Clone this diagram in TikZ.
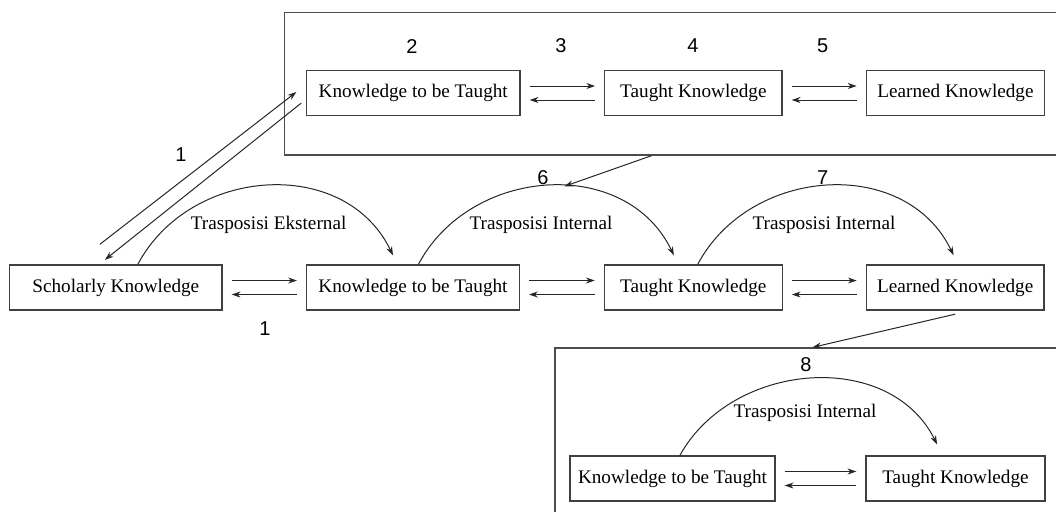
\documentclass[tikz,border=0pt]{standalone}
\usepackage{fontspec}
\setmainfont{Liberation Serif}
\newfontfamily\numfont{Liberation Sans}
\usetikzlibrary{arrows.meta}
\begin{document}
\begin{tikzpicture}[x=0.5pt, y=-0.5pt, line width=0.5pt, >={Stealth[length=4.4pt,width=3pt]},
    box/.style={draw=black!75, line width=0.65pt, minimum height=22.5pt, inner sep=0pt, font=\fontsize{9.6}{11}\selectfont},
    frame/.style={draw=black!70, line width=0.65pt, inner sep=0pt},
    lbl/.style={font=\fontsize{9.6}{11}\selectfont},
    num/.style={font=\numfont\fontsize{10}{12}\selectfont},
    arc/.style={->, draw=black!85}]
    \useasboundingbox (0,0) rectangle (1056,511);
    % frames
    \node[frame, minimum width=392.8pt, minimum height=71.3pt] (topframe) at (677.2,83.7) {};
    \node[frame, minimum width=257.5pt, minimum height=91pt] (botframe) at (812.5,439) {};
    % boxes
    \node[box, minimum width=106.75pt] (ktA) at (413.25,93) {Knowledge to be Taught};
    \node[box, minimum width=88.6pt] (tkA) at (693.4,93) {Taught Knowledge};
    \node[box, minimum width=89.25pt] (lkA) at (955.5,93) {Learned Knowledge};
    \node[box, minimum width=106.2pt] (sk) at (115.8,287.5) {Scholarly Knowledge};
    \node[box, minimum width=106.4pt] (ktB) at (413,287.5) {Knowledge to be Taught};
    \node[box, minimum width=88.9pt] (tkB) at (693.3,287.5) {Taught Knowledge};
    \node[box, minimum width=88.9pt] (lkB) at (955.2,287.5) {Learned Knowledge};
    \node[box, minimum width=102.5pt] (ktC) at (672.5,478.5) {Knowledge to be Taught};
    \node[box, minimum width=89.5pt] (tkC) at (955.5,478.5) {Taught Knowledge};
    % numbers
    \node[num] (n1a) at (181,155) {1};
    \node[num] (n1b) at (265,328.4) {1};
    \node[num] (n2) at (412,46.5) {2};
    \node[num] (n3) at (561,46) {3};
    \node[num] (n4) at (693,46) {4};
    \node[num] (n5) at (822.6,46) {5};
    \node[num] (n6) at (543,178) {6};
    \node[num] (n7) at (822.6,178) {7};
    \node[num] (n8) at (806,365) {8};
    % arc labels
    \node[lbl] (tE) at (268.6,224.4) {Trasposisi Eksternal};
    \node[lbl] (tI1) at (541,224.4) {Trasposisi Internal};
    \node[lbl] (tI2) at (824,224.4) {Trasposisi Internal};
    \node[lbl] (tI3) at (805,413) {Trasposisi Internal};
    % paired arrows
    \foreach \a/\b in {ktA/tkA, tkA/lkA, sk/ktB, ktB/tkB, tkB/lkB, ktC/tkC} {
        \draw[->, black!85] ([shift={(4.5pt,3.5pt)}]\a.east) -- ([shift={(-4.5pt,3.5pt)}]\b.west);
        \draw[<-, black!85] ([shift={(4.5pt,-3.5pt)}]\a.east) -- ([shift={(-4.5pt,-3.5pt)}]\b.west);
    }
    % arcs
    \draw[arc] ([xshift=11pt]sk.north) .. controls +(26pt,49pt) and +(-24pt,50pt) .. ([shift={(-10pt,4.5pt)}]ktB.north);
    \draw[arc] ([xshift=2.7pt]ktB.north) .. controls +(26pt,49pt) and +(-24pt,50pt) .. ([shift={(-9.7pt,4.5pt)}]tkB.north);
    \draw[arc] ([xshift=2.2pt]tkB.north) .. controls +(26pt,49pt) and +(-24pt,50pt) .. ([shift={(-0.8pt,4.5pt)}]lkB.north);
    \draw[arc] ([xshift=3.7pt]ktC.north) .. controls +(26pt,47pt) and +(-24pt,48pt) .. ([shift={(-9.2pt,5.5pt)}]tkC.north);
    % diagonal arrows
    \draw[->, black!85] ([shift={(-8pt,10pt)}]sk.north) -- ([shift={(-4.75pt,0.5pt)}]ktA.west);
    \draw[->, black!85] ([shift={(-2.25pt,-5pt)}]ktA.west) -- ([shift={(-5.5pt,2.25pt)}]sk.north);
    % links between frames
    \coordinate (to6) at (564.4,186.3);
    \draw[->, black!85] ([xshift=-12.8pt]topframe.south) -- (to6);
    \draw[->, black!85] ([yshift=-1.75pt]lkB.south) -- (botframe.north);
\end{tikzpicture}
\end{document}
